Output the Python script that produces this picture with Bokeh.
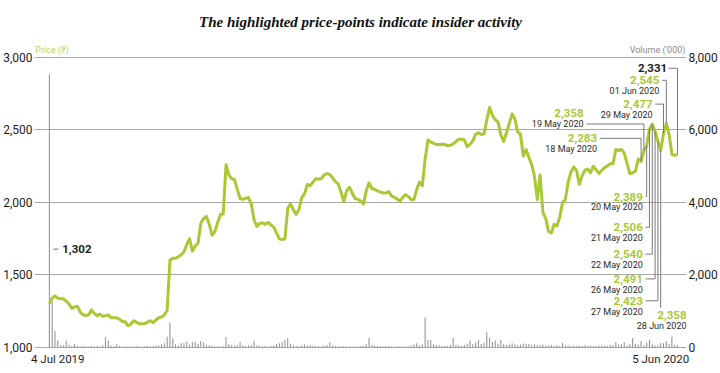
from bokeh.plotting import figure
from bokeh.models import Range1d, LinearAxis, FixedTicker, NumeralTickFormatter, ColumnDataSource
from bokeh.core.properties import value
from bokeh.embed import file_html
from bokeh.resources import INLINE

# ---------------- data ----------------
title_text = "The highlighted price-points indicate insider activity"
start_label = "4 Jul 2019"
end_label = "5 Jun 2020"
price_axis_label = "Price (\u20b9)"
volume_axis_label = "Volume ('000)"
price_ticks = [1000, 1500, 2000, 2500, 3000]
volume_ticks = [0, 2000, 4000, 6000, 8000]

# daily closing price (trading days, 4 Jul 2019 .. 5 Jun 2020)
price = [
    1302, 1340, 1356, 1340, 1336, 1336, 1320, 1300, 1270, 1280,
    1285, 1245, 1225, 1220, 1225, 1260, 1235, 1220, 1230, 1215,
    1220, 1225, 1205, 1205, 1205, 1195, 1180, 1178, 1150, 1160,
    1185, 1175, 1164, 1164, 1165, 1175, 1185, 1172, 1190, 1205,
    1210, 1225, 1255, 1600, 1616, 1616, 1625, 1640, 1660, 1710,
    1750, 1665, 1700, 1719, 1856, 1890, 1904, 1850, 1774, 1800,
    1860, 1918, 1920, 2260, 2190, 2165, 2157, 2090, 2027, 2021,
    2028, 2034, 1990, 1880, 1835, 1855, 1860, 1849, 1862, 1845,
    1830, 1790, 1750, 1745, 1750, 1959, 1990, 1950, 1918, 1950,
    2034, 2060, 2125, 2115, 2140, 2164, 2160, 2165, 2190, 2199,
    2192, 2170, 2144, 2128, 2070, 2007, 2080, 2105, 2065, 2027,
    2022, 2010, 1990, 2080, 2135, 2096, 2090, 2080, 2072, 2065,
    2065, 2075, 2045, 2035, 2025, 2007, 2035, 2055, 2040, 2021,
    2021, 2090, 2140, 2115, 2300, 2430, 2418, 2408, 2400, 2400,
    2402, 2400, 2390, 2395, 2404, 2420, 2436, 2435, 2430, 2385,
    2400, 2425, 2470, 2480, 2468, 2473, 2570, 2655, 2600, 2570,
    2555, 2466, 2420, 2480, 2545, 2610, 2575, 2486, 2470, 2320,
    2365, 2310, 2260, 2180, 2020, 2190, 1930, 1890, 1800, 1790,
    1850, 1838, 1900, 2000, 2021, 2140, 2210, 2245, 2218, 2125,
    2185, 2222, 2230, 2205, 2250, 2225, 2200, 2222, 2240, 2252,
    2267, 2267, 2365, 2358, 2365, 2340, 2267, 2199, 2205, 2215,
    2300, 2283, 2358, 2389, 2506, 2540, 2491, 2423, 2358, 2477,
    2545, 2470, 2330, 2325, 2331,
]

# daily traded volume ('000)
volume = [
    7530, 1260, 457, 192, 60, 55, 183, 73, 40, 95,
    45, 30, 50, 35, 25, 45, 30, 40, 28, 60,
    292, 192, 50, 35, 91, 40, 30, 25, 35, 30,
    25, 40, 30, 28, 35, 45, 30, 40, 60, 55,
    90, 120, 300, 690, 256, 90, 60, 119, 119, 164,
    80, 146, 164, 100, 183, 137, 70, 60, 45, 30,
    35, 25, 40, 290, 91, 60, 45, 70, 146, 60,
    40, 55, 70, 183, 60, 45, 35, 40, 30, 50,
    60, 91, 120, 150, 210, 256, 100, 60, 45, 35,
    60, 80, 55, 65, 50, 40, 35, 30, 55, 70,
    146, 55, 40, 35, 30, 40, 35, 30, 28, 25,
    30, 35, 40, 90, 265, 70, 55, 40, 35, 30,
    45, 35, 30, 28, 30, 35, 30, 28, 30, 60,
    80, 119, 60, 90, 831, 200, 210, 90, 70, 60,
    45, 50, 40, 70, 265, 80, 60, 45, 70, 100,
    192, 90, 140, 210, 100, 130, 420, 265, 150, 192,
    110, 210, 90, 70, 80, 120, 90, 70, 80, 110,
    95, 100, 80, 90, 70, 60, 80, 60, 55, 70,
    50, 60, 45, 128, 60, 50, 45, 55, 40, 50,
    45, 60, 45, 50, 40, 35, 45, 60, 50, 40,
    70, 60, 146, 80, 90, 150, 60, 90, 265, 100,
    80, 174, 60, 140, 210, 90, 60, 70, 120, 120,
    174, 90, 301, 80, 60,
]

# insider-activity points: trading-day index and the date printed on the chart
insider_day = [211, 212, 213, 214, 215, 216, 217, 218, 219, 220]
insider_date = ["18 May 2020", "19 May 2020", "20 May 2020", "21 May 2020", "22 May 2020",
                "26 May 2020", "27 May 2020", "28 Jun 2020", "29 May 2020", "01 Jun 2020"]

# ---------------- styling ----------------
GREEN = "#a9c934"
GRID = "#a8a8a8"
LEAD = "#7a7a7a"
DARK = "#1e1e1e"
SANS = "Roboto"

n = len(price)
days = list(range(n))

p = figure(width=720, height=373, output_backend="svg", toolbar_location=None,
           x_range=Range1d(-5.3, 227.2), y_range=Range1d(979.5, 3116.4),
           min_border_left=30, min_border_right=33, min_border_bottom=23, min_border_top=38)
p.extra_y_ranges = {"vol": Range1d((979.5 - 1000) * 4, (3116.4 - 1000) * 4)}
p.outline_line_color = None
p.background_fill_color = "white"
p.border_fill_color = "white"

p.title.text = title_text
p.title.align = "center"
p.title.text_font = "Liberation Serif"
p.title.text_font_style = "bold italic"
p.title.text_font_size = "15px"
p.title.text_color = "#111111"
p.title.standoff = 22

# bottom axis: only the first and last date
xax = p.xaxis[0]
xax.ticker = FixedTicker(ticks=[3, 218])
xax.major_label_overrides = {3: start_label, 218: end_label}
p.xgrid.grid_line_color = None

yax = p.yaxis[0]
yax.ticker = FixedTicker(ticks=price_ticks)
yax.formatter = NumeralTickFormatter(format="0,0")
rax = LinearAxis(y_range_name="vol", ticker=FixedTicker(ticks=volume_ticks),
                 formatter=NumeralTickFormatter(format="0,0"))
p.add_layout(rax, "right")
for ax in [xax, yax, rax]:
    ax.axis_line_color = None
    ax.major_tick_line_color = None
    ax.minor_tick_line_color = None
    ax.major_tick_out = 0
    ax.major_tick_in = 0
    ax.minor_tick_out = 0
    ax.minor_tick_in = 0
    ax.major_label_text_font = SANS
    ax.major_label_text_font_size = "12px"
    ax.major_label_text_color = DARK
    ax.major_label_standoff = 2
xax.major_label_text_font_size = "11.5px"
xax.major_label_standoff = 1

p.ygrid.ticker = FixedTicker(ticks=price_ticks)
p.ygrid.grid_line_color = GRID
p.ygrid.grid_line_width = 1

# volume bars
vsrc = ColumnDataSource(dict(x=days, v=volume, z=[0] * n))
p.segment(x0="x", y0="z", x1="x", y1="v", source=vsrc, y_range_name="vol",
          line_color="#8c8c8c", line_width=1)

# price line
p.line(days, price, line_color=GREEN, line_width=3, line_join="round")

# ---------------- annotations ----------------
# layout for each insider label: (text right edge in days, value-text y, date-text y, side, leader level)
layout = {
    211: (195.3, 2442, 2370, "top", "value"),
    212: (190.5, 2616, 2541, "top", "date"),
    219: (215.1, 2678, 2603, "top", "value"),
    220: (217.5, 2842, 2767, "top", "value"),
    213: (211.6, 2041, 1966, "bottom", "value"),
    214: (211.6, 1829, 1753, "bottom", "value"),
    215: (211.6, 1644, 1569, "bottom", "value"),
    216: (211.6, 1473, 1397, "bottom", "value"),
    217: (211.6, 1322, 1247, "bottom", "value"),
    218: (227.2, 1226, 1151, "drop", "value"),
}

vx, vy, vt, dx, dy, dt = [], [], [], [], [], []
lx, ly = [], []
for d, date in zip(insider_day, insider_date):
    tx, yv, yd, side, lvl = layout[d]
    val = price[d]
    vx.append(tx); vy.append(yv); vt.append(f"{val:,}")
    dx.append(tx); dy.append(yd); dt.append(date)
    if side == "drop":
        lx.append([d, d]); ly.append([val, yv + 48])
    else:
        yl = yv if lvl == "value" else yd
        lx.append([tx + 1.0, d, d]); ly.append([yl, yl, val])

# end point and start point labels
last = n - 1
end_y = 2925
lx.append([220.8, last, last]); ly.append([end_y, end_y, price[last]])
lx.append([1.4, 3.2]); ly.append([1678, 1678])

p.multi_line(lx, ly, line_color=LEAD, line_width=1)

p.text(vx, vy, text=vt, text_align="right", text_baseline="middle",
       text_font=value(SANS), text_font_style="bold", text_font_size="11.5px", text_color=GREEN)
p.text(dx, dy, text=dt, text_align="right", text_baseline="middle",
       text_font=value(SANS), text_font_size="9px", text_color="#2a2a2a")
p.text([220.3], [end_y], text=[f"{price[last]:,}"], text_align="right", text_baseline="middle",
       text_font=value(SANS), text_font_style="bold", text_font_size="11.5px", text_color=DARK)
p.text([4.6], [1678], text=[f"{price[0]:,}"], text_align="left", text_baseline="middle",
       text_font=value(SANS), text_font_style="bold", text_font_size="11.5px", text_color=DARK)

# axis captions
p.text([-5.0], [3048], text=[price_axis_label], text_align="left", text_baseline="middle",
       text_font=value(SANS), text_font_size="9px", text_color="#bcd55e")
p.text([226.8], [3048], text=[volume_axis_label], text_align="right", text_baseline="middle",
       text_font=value(SANS), text_font_size="9px", text_color="#8a8a8a")

open("out.html", "w").write(file_html(p, INLINE))
